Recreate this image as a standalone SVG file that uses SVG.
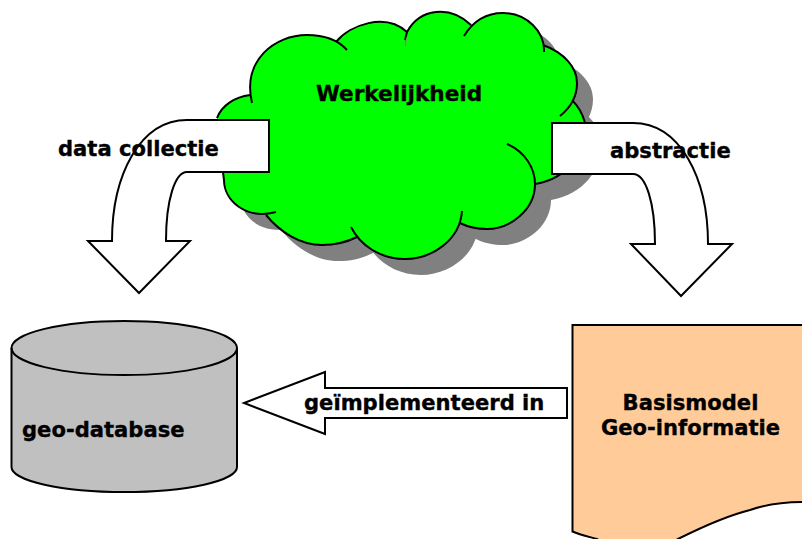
<svg xmlns="http://www.w3.org/2000/svg" width="802" height="539" viewBox="0 0 802 539">
<style>
text{font-family:"DejaVu Sans",Verdana,sans-serif;font-weight:700;font-size:21.1px;fill:#000;stroke:#000;stroke-width:.35}
.s{stroke:#000;stroke-width:2;stroke-linejoin:miter}
.l{fill:none;stroke:#000;stroke-width:2}
.w{fill:#fff}
</style>
<defs>
<path id="cloudShape" d="M260,90 L400,45 L535,60 L565,115 L520,190 L400,240 L280,200 L235,170 Z M217,118 C222,105 235,97 250,95 L400,140 Z M252,103 C242,60 275,35 307,35 C325,35 338,40 347,50 L400,140 Z M336,42 C350,25 385,12 407,32 L405,40 L400,140 Z M407,32 C420,8 450,5 471,25 L400,140 Z M464,36 C475,18 490,13 503,13 C527,13 545,32 544,52 L400,140 Z M543,45 C565,53 577,68 577,83 C577,98 570,108 560,116 L400,140 Z M572,100 C580,108 583,115 585,123 C588,150 570,178 535,184 L400,140 Z M507,144 C525,152 535,168 535,184 C535,210 510,229 487,229 C478,229 468,227 460,223 L400,140 Z M462,211 C460,240 432,259 405,259 C380,259 360,245 351,227 L400,140 Z M357,237 C345,243 335,245 322,245 C300,245 280,232 266,215 L400,140 Z M276,212 C245,220 224,200 224,180 C222,160 214,135 217,118 L400,140 Z"/>
</defs>
<g id="cloud">
<use href="#cloudShape" x="16" y="16" fill="#808080"/>
<use href="#cloudShape" fill="#00ff00"/>
<path class="l" d="M217,118 C222,105 235,97 250,95 M252,103 C242,60 275,35 307,35 C325,35 338,40 347,50 M336,42 C350,25 385,12 407,32 L405,40 M407,32 C420,8 450,5 471,25 M464,36 C475,18 490,13 503,13 C527,13 545,32 544,52 M543,45 C565,53 577,68 577,83 C577,98 570,108 560,116 M572,100 C580,108 583,115 585,123 C588,150 570,178 535,184 M507,144 C525,152 535,168 535,184 C535,210 510,229 487,229 C478,229 468,227 460,223 M462,211 C460,240 432,259 405,259 C380,259 360,245 351,227 M357,237 C345,243 335,245 322,245 C300,245 280,232 266,215 M276,212 C245,220 224,200 224,180 C223,172 222,165 221,158"/>
<text x="316" y="101" style="font-size:21.6px">Werkelijkheid</text>
</g>
<g id="connectors">
<path id="arrow-data" class="s w" d="M269,120 H187 C140,120 112,175 112,241 H88 L139,293 L190,241 H166 C166,200 175,172 187,172 H269 Z"/>
<path id="arrow-abstractie" class="s w" d="M552,123 H633 C680,123 708,178 708,244 H732 L681,296 L631,244 H655 C655,203 646,174 633,174 H552 Z"/>
<path id="arrow-impl" class="s w" d="M567,388 H325 V372 L244,403 L325,434 V418 H567 Z"/>
<text x="58" y="156">data collectie</text>
<text x="610" y="158">abstractie</text>
<text x="304" y="410">geïmplementeerd in</text>
</g>
<g id="geo-database">
<path class="s" fill="#c0c0c0" d="M11.5,348 A112.5,27 0 0 1 237,348 V467 A112.5,25 0 0 1 11.5,467 Z"/>
<path class="l" d="M11.5,348 A112.5,27 0 0 0 237,348"/>
<text x="22" y="437">geo-database</text>
</g>
<g id="basismodel">
<path class="s" fill="#ffcc99" d="M572.5,325 H803 V502 C790,502 770,503 750,510 C730,515 710,523 678,539 L680,541 H600 L597,539 C590,537 580,535 572.5,531.5 Z"/>
<text x="690.5" y="410" text-anchor="middle">Basismodel</text>
<text x="690.5" y="435" text-anchor="middle">Geo-informatie</text>
</g>
</svg>
